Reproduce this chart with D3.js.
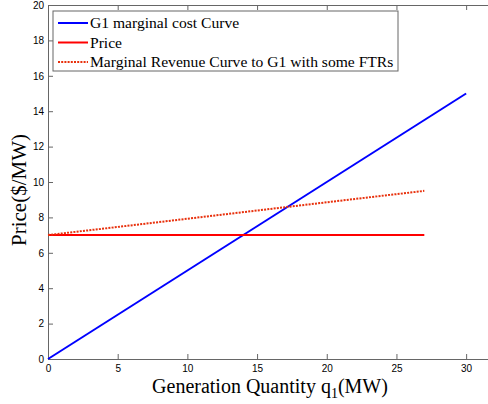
<!DOCTYPE html>
<html>
<head>
<meta charset="utf-8">
<script src="https://cdn.jsdelivr.net/npm/d3@7"></script>
<style>
  body { margin: 0; background: #fff; }
  .tick text { font-family: "Liberation Sans", Arial, sans-serif; font-size: 10px; fill: #000; }
  .serif { font-family: "Liberation Serif", "Times New Roman", serif; }
</style>
</head>
<body>
<div id="chart"></div>
<script>
// data
const mcX = [0, 30];
const mcY = [0, 15];
const priceX = [0, 27];
const priceY = [7, 7];
const mrX = [0, 27];
const mrY = [7, 9.5];
const xTicks = [0, 5, 10, 15, 20, 25, 30];
const yTicks = [0, 2, 4, 6, 8, 10, 12, 14, 16, 18, 20];
const legendLabels = ["G1 marginal cost Curve", "Price", "Marginal Revenue Curve to G1 with some FTRs"];

const width = 488, height = 404,
  margin = { top: 5, left: 48, bottom: 45 },
  plotH = height - margin.top - margin.bottom,
  plotW = 446; // right edge falls off the picture

const x = d3.scaleLinear().domain([0, 32]).range([0, plotW]);
const y = d3.scaleLinear().domain([0, 20]).range([plotH, 0]);

const svg = d3.select("#chart").append("svg")
  .attr("width", width).attr("height", height);

const g = svg.append("g").attr("transform", `translate(${margin.left},${margin.top})`);

const axisColor = "#666";

// bottom axis
const xAxis = g.append("g").attr("transform", `translate(0,${plotH})`)
  .call(d3.axisBottom(x).tickValues(xTicks).tickSizeInner(-5).tickSizeOuter(0).tickPadding(4));
// top axis (ticks only)
const xTop = g.append("g")
  .call(d3.axisTop(x).tickValues(xTicks).tickSizeInner(-5).tickSizeOuter(0).tickFormat(""));
// left axis
const yAxis = g.append("g")
  .call(d3.axisLeft(y).tickValues(yTicks).tickSizeInner(-5).tickSizeOuter(0).tickPadding(4));

[xAxis, xTop, yAxis].forEach(a => {
  a.selectAll("path, line").attr("stroke", axisColor);
});
xAxis.selectAll(".tick text").attr("dy", "0.85em");

const line = d3.line().x(d => x(d[0])).y(d => y(d[1]));

const series = [
  { xs: mcX, ys: mcY, color: "#0000ff", dash: null },
  { xs: priceX, ys: priceY, color: "#ff0000", dash: null },
  { xs: mrX, ys: mrY, color: "#e8300c", dash: "2,1.2" }
];

series.forEach(s => {
  g.append("path")
    .datum(s.xs.map((v, i) => [v, s.ys[i]]))
    .attr("d", line)
    .attr("fill", "none")
    .attr("stroke", s.color)
    .attr("stroke-width", 2)
    .attr("stroke-dasharray", s.dash);
});

// legend
const legend = g.append("g").attr("transform", "translate(5,6)");
legend.append("rect")
  .attr("width", 345).attr("height", 60)
  .attr("fill", "#fff").attr("stroke", axisColor);
series.forEach((s, i) => {
  const ly = 12 + i * 19.5;
  legend.append("line")
    .attr("x1", 5).attr("x2", 35).attr("y1", ly).attr("y2", ly)
    .attr("stroke", s.color).attr("stroke-width", 2)
    .attr("stroke-dasharray", s.dash);
  legend.append("text")
    .attr("class", "serif")
    .attr("x", 37).attr("y", ly).attr("dy", "0.35em")
    .attr("font-size", 15.6)
    .text(legendLabels[i]);
});

// axis titles
const xt = svg.append("text")
  .attr("class", "serif")
  .attr("x", 270).attr("y", 393)
  .attr("text-anchor", "middle")
  .attr("font-size", 20);
xt.append("tspan").text("Generation Quantity q");
xt.append("tspan").attr("dy", 5).attr("font-size", 14).text("1");
xt.append("tspan").attr("dy", -5).text("(MW)");

svg.append("text")
  .attr("class", "serif")
  .attr("transform", "translate(26,190) rotate(-90)")
  .attr("text-anchor", "middle")
  .attr("font-size", 21)
  .text("Price($/MW)");
</script>
</body>
</html>
